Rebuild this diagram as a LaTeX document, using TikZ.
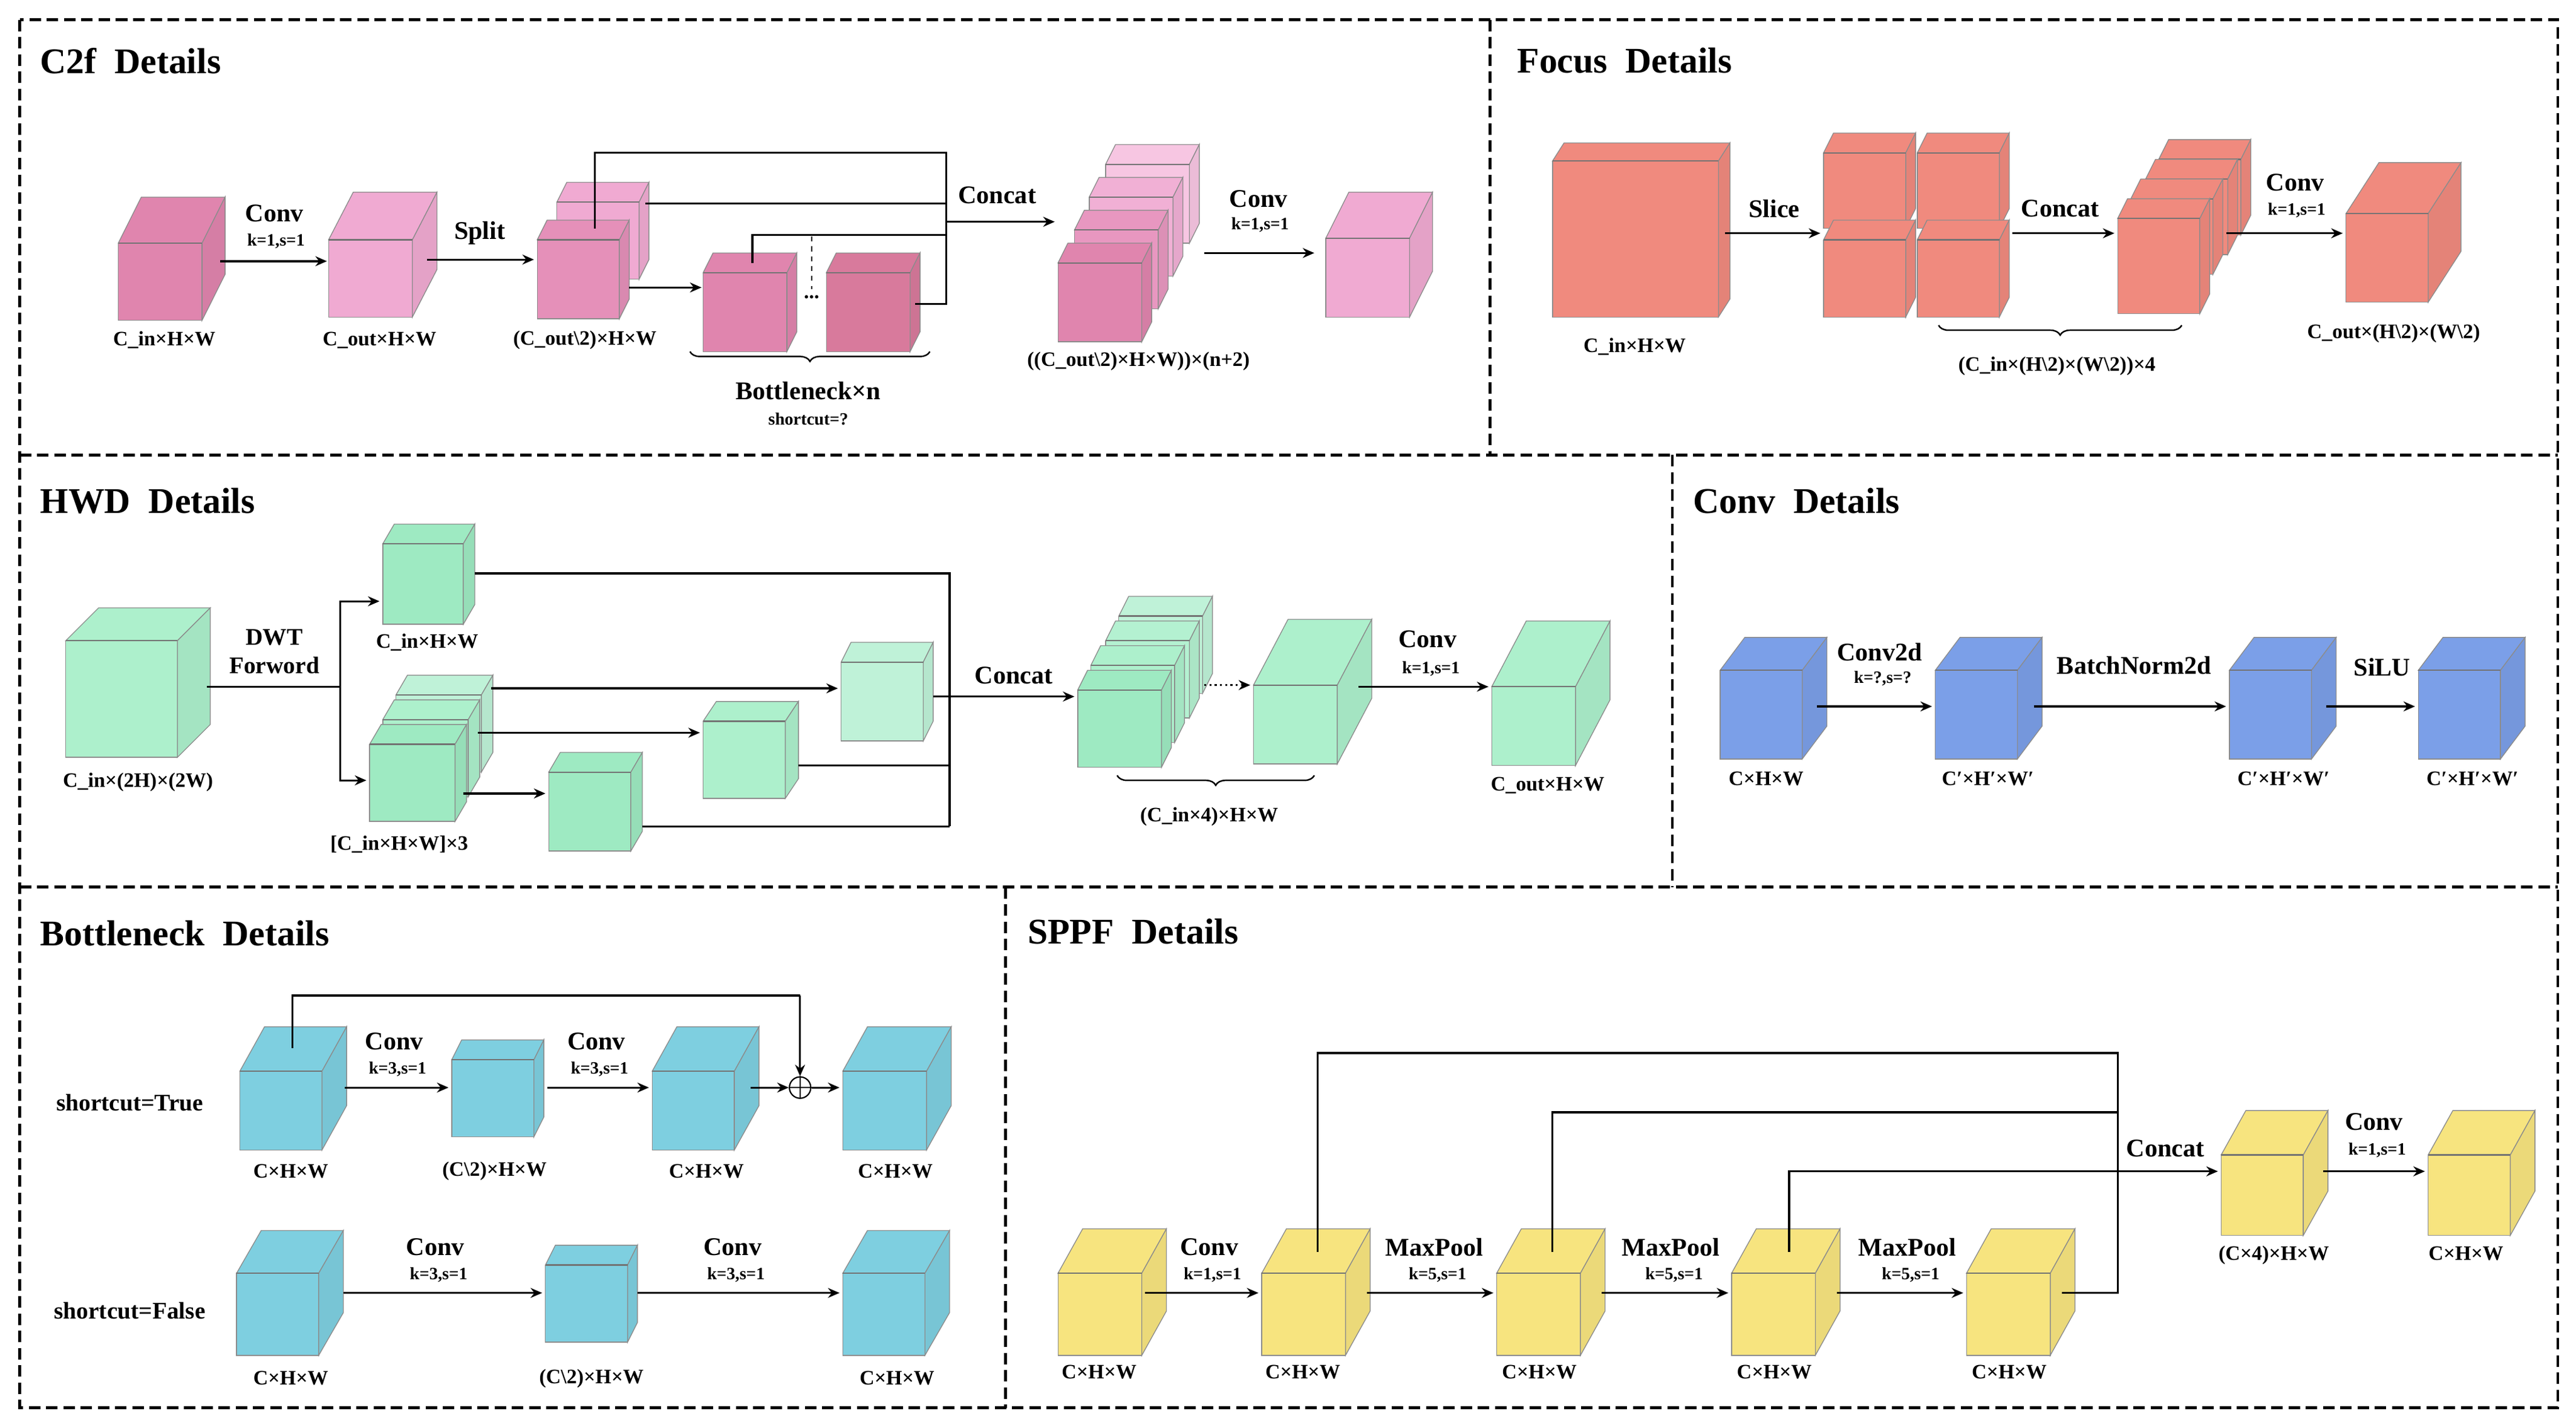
\documentclass[tikz,border=0pt]{standalone}
\usepackage{fontspec}
\setmainfont{Liberation Serif}
\usetikzlibrary{arrows.meta,decorations.pathreplacing}
\definecolor{pkA}{HTML}{E085AE}
\definecolor{pkB}{HTML}{F0AAD2}
\definecolor{pkC}{HTML}{F7C6E2}
\definecolor{pkD}{HTML}{D87A9C}
\definecolor{sal}{HTML}{F08A7E}
\definecolor{grA}{HTML}{9EEAC2}
\definecolor{grB}{HTML}{ADF0CC}
\definecolor{grC}{HTML}{BFF2D8}
\definecolor{blu}{HTML}{7B9FE8}
\definecolor{cya}{HTML}{7ECFE0}
\definecolor{yel}{HTML}{F7E47F}
\newcommand{\cube}[8]{%
 \filldraw[draw=black!45,line width=0.5pt,fill=#8] (#2,#3) rectangle ++(#4,#5);
 \filldraw[draw=black!45,line width=0.5pt,fill=#8] (#2,#3) -- ++(#6,-#7) -- ++(#4,0) -- ++(-#6,#7) -- cycle;
 \filldraw[draw=black!45,line width=0.5pt,fill=#8!95!black] (#2+#4,#3) -- ++(#6,-#7) -- ++(0,#5) -- ++(-#6,#7) -- cycle;
 \draw[black!55,line width=0.8pt] (#2,#3) -- ++(#4,0);
 \path (#2,#3) ++(0.5*#4,0.5*#5) node[inner sep=0,minimum width=#4,minimum height=#5] (#1) {};
}
\begin{document}
\begin{tikzpicture}[x=1pt,y=-1pt,
 title/.style={font=\bfseries\fontsize{22}{24}\selectfont,anchor=west},
 lbl/.style={font=\bfseries\fontsize{12.5}{13}\selectfont},
 op/.style={font=\bfseries\fontsize{15.5}{16}\selectfont},
 sub/.style={font=\bfseries\fontsize{10.5}{11}\selectfont},
 arr/.style={line width=1.2pt,-{Stealth[length=7pt,width=6pt]}},
 ln/.style={line width=1.2pt},
 brc/.style={decorate,decoration={brace,mirror,amplitude=6pt},line width=0.9pt},
 frame/.style={line width=1.7pt,dash pattern=on 7pt off 3.5pt}]
\path[use as bounding box] (0,0) rectangle (1568,869);
% frames
\draw[frame] (12,12) rectangle (1557,857);
\draw[frame] (12,277) -- (1557,277);
\draw[frame] (12,540) -- (1557,540);
\draw[frame] (907,12) -- (907,277);
\draw[frame] (1018,277) -- (1018,540);
\draw[frame] (612,540) -- (612,857);
% ================= C2f
\node[title] (t1) at (21,37) {C2f\,\,\,Details};
\cube{a1}{72}{148}{51}{47}{14}{28}{pkA}
\cube{a2}{200}{146}{51}{47}{15}{29}{pkB}
\cube{a3b}{339}{123}{50}{47}{6}{12}{pkB}
\cube{a3}{327}{146}{50}{48}{6}{12}{pkA!70!pkB}
\cube{b1}{428}{166}{51}{48}{6}{12}{pkA}
\cube{b2}{503}{166}{51}{48}{6}{12}{pkD}
\cube{s4}{673}{100}{51}{48}{6}{12}{pkC}
\cube{s3}{663}{120}{51}{48}{6}{12}{pkB!80!pkC}
\cube{s2}{654}{140}{51}{48}{6}{12}{pkA!50!pkB}
\cube{s1}{644}{160}{51}{48}{6}{12}{pkA}
\cube{a4}{807}{145}{51}{48}{14}{28}{pkB}
\draw[arr] (134,159) -- (199,159);
\node[op] at (167,130) {Conv};
\node[sub] at (168,147) {k=1,s=1};
\draw[arr] (260,158) -- (325,158);
\node[op] at (292,142) {Split};
\draw[arr] (383,175) -- (427,175);
\draw[ln] (362,139) -- (362,93) -- (576,93) -- (576,185) -- (557,185);
\draw[ln] (393,124) -- (576,124);
\draw[ln] (458,160) -- (458,143) -- (576,143);
\draw[dashed,line width=0.8pt] (494,144) -- (494,176);
\node[lbl] at (494,181) {...};
\draw[arr] (576,135) -- (642,135);
\node[op] at (607,119) {Concat};
\draw[arr] (733,154) -- (800,154);
\node[op] at (766,121) {Conv};
\node[sub] at (767,137) {k=1,s=1};
\node[lbl] at (100,207) {C\_in×H×W};
\node[lbl] at (231,207) {C\_out×H×W};
\node[lbl] at (356,207) {(C\_out\textbackslash 2)×H×W};
\draw[brc] (420,214) -- (566,214);
\node[op] at (492,238) {Bottleneck×n};
\node[sub] at (492,255) {shortcut=?};
\node[lbl] at (693,220) {((C\_out\textbackslash 2)×H×W))×(n+2)};
% ================= Focus
\node[title] (t2) at (920,37) {Focus\,\,\,Details};
\cube{f1}{945}{98}{101}{95}{7}{11}{sal}
\cube{f2}{1110}{93}{50}{46}{6}{12}{sal}
\cube{f3}{1110}{146}{50}{47}{6}{12}{sal}
\cube{f4}{1167}{93}{50}{46}{6}{12}{sal}
\cube{f5}{1167}{146}{50}{47}{6}{12}{sal}
\cube{g4}{1314}{97}{50}{46}{6}{12}{sal}
\cube{g3}{1306}{109}{50}{46}{6}{12}{sal}
\cube{g2}{1297}{121}{50}{46}{6}{12}{sal}
\cube{g1}{1289}{133}{50}{58}{6}{12}{sal}
\cube{f6}{1428}{130}{50}{54}{20}{31}{sal}
\draw[arr] (1050,142) -- (1108,142);
\node[op] at (1080,127) {Slice};
\draw[arr] (1225,142) -- (1287,142);
\node[op] at (1254,127) {Concat};
\draw[arr] (1355,142) -- (1426,142);
\node[op] at (1397,111) {Conv};
\node[sub] at (1398,128) {k=1,s=1};
\node[lbl] at (995,211) {C\_in×H×W};
\draw[brc] (1180,198) -- (1328,198);
\node[lbl] at (1252,223) {(C\_in×(H\textbackslash 2)×(W\textbackslash 2))×4};
\node[lbl] at (1457,203) {C\_out×(H\textbackslash 2)×(W\textbackslash 2)};
% ================= HWD
\node[title] (t3) at (21,305) {HWD\,\,\,Details};
\cube{h0}{40}{390}{68}{71}{20}{20}{grB}
\cube{h1}{233}{331}{49}{49}{7}{12}{grA}
\cube{h2c}{241}{423}{52}{47}{7}{12}{grC}
\cube{h2b}{233}{438}{52}{47}{7}{12}{grB}
\cube{h2}{225}{453}{52}{47}{7}{12}{grA}
\cube{hA}{512}{403}{50}{48}{6}{12}{grC}
\cube{hB}{428}{439}{50}{47}{8}{12}{grB}
\cube{hC}{334}{470}{50}{48}{7}{12}{grA}
\cube{k4}{681}{375}{51}{47}{6}{12}{grC}
\cube{k3}{673}{390}{51}{47}{6}{12}{grB!60!grC}
\cube{k2}{664}{405}{51}{47}{6}{12}{grB}
\cube{k1}{656}{420}{51}{47}{6}{12}{grA}
\cube{hM}{763}{417}{51}{48}{21}{40}{grB}
\cube{hO}{908}{418}{51}{48}{21}{40}{grB}
\node[op,font=\bfseries\fontsize{14.5}{15}\selectfont,inner sep=1pt] (dwt1) at (167,388) {DWT};
\node[op,font=\bfseries\fontsize{14.5}{15}\selectfont,inner sep=1pt] (dwt2) at (167,405) {Forword};
\draw[ln] (126,418) -- (207,418);
\draw[arr] (207,418) -- (207,366) -- (231,366);
\draw[arr] (207,418) -- (207,475) -- (223,475);
\draw[ln] (289,349) -- (578,349) -- (578,503);
\draw[arr] (299,419) -- (510,419);
\draw[arr] (291,446) -- (426,446);
\draw[arr] (282,483) -- (332,483);
\draw[ln] (568,424) -- (578,424);
\draw[ln] (486,466) -- (578,466);
\draw[ln] (391,503) -- (578,503);
\draw[arr] (578,424) -- (654,424);
\node[op] at (617,411) {Concat};
\draw[line width=1.2pt,dotted,-{Stealth[length=7pt,width=6pt]}] (733,417) -- (761,417);
\draw[arr] (827,418) -- (906,418);
\node[op] at (869,389) {Conv};
\node[sub] at (871,407) {k=1,s=1};
\node[lbl] at (84,476) {C\_in×(2H)×(2W)};
\node[lbl] at (260,391) {C\_in×H×W};
\node[lbl] at (243,514) {[C\_in×H×W]×3};
\draw[brc] (680,472) -- (800,472);
\node[lbl] at (736,497) {(C\_in×4)×H×W};
\node[lbl] at (942,478) {C\_out×H×W};
% ================= Conv
\node[title] (t4) at (1027,305) {Conv\,\,\,Details};
\cube{c1}{1047}{408}{50}{54}{15}{20}{blu}
\cube{c2}{1178}{408}{50}{54}{15}{20}{blu}
\cube{c3}{1357}{408}{50}{54}{15}{20}{blu}
\cube{c4}{1472}{408}{50}{54}{15}{20}{blu}
\draw[arr] (1106,430) -- (1176,430);
\node[op] at (1144,397) {Conv2d};
\node[sub] at (1146,413) {k=?,s=?};
\draw[arr] (1238,430) -- (1355,430);
\node[op] at (1299,405) {BatchNorm2d};
\draw[arr] (1416,430) -- (1470,430);
\node[op] at (1450,406) {SiLU};
\node[lbl] at (1075,474) {C×H×W};
\node[lbl] at (1210,474) {C′×H′×W′};
\node[lbl] at (1390,474) {C′×H′×W′};
\node[lbl] at (1505,474) {C′×H′×W′};
% ================= Bottleneck
\node[title] (t5) at (21,568) {Bottleneck\,\,\,Details};
\node[op,font=\bfseries\fontsize{14.5}{15}\selectfont] at (79,671) {shortcut=True};
\node[op,font=\bfseries\fontsize{14.5}{15}\selectfont] at (79,798) {shortcut=False};
\cube{p1}{146}{652}{50}{48}{15}{27}{cya}
\cube{p2}{275}{645}{50}{47}{6}{12}{cya}
\cube{p3}{397}{652}{50}{48}{15}{27}{cya}
\cube{p4}{513}{652}{51}{48}{15}{27}{cya}
\node[draw,circle,minimum size=13pt,inner sep=0,line width=0.8pt] (plus) at (487,662) {};
\draw[line width=0.8pt] (plus.north) -- (plus.south) (plus.west) -- (plus.east);
\draw[arr] (210,662) -- (273,662);
\node[op] at (240,634) {Conv};
\node[sub] at (242,651) {k=3,s=1};
\draw[arr] (333,662) -- (395,662);
\node[op] at (363,634) {Conv};
\node[sub] at (365,651) {k=3,s=1};
\draw[arr] (457,662) -- (plus.west);
\draw[arr] (plus.east) -- (511,662);
\draw[ln] (178,638) -- (178,606) -- (487,606);
\draw[arr] (487,606) -- (plus.north);
\node[lbl] at (177,713) {C×H×W};
\node[lbl] at (301,713) {(C\textbackslash 2)×H×W};
\node[lbl] at (430,713) {C×H×W};
\node[lbl] at (545,713) {C×H×W};
\cube{q1}{144}{775}{50}{50}{15}{26}{cya}
\cube{q2}{332}{770}{50}{47}{6}{12}{cya}
\cube{q3}{513}{775}{50}{50}{15}{26}{cya}
\draw[arr] (209,787) -- (330,787);
\node[op] at (265,759) {Conv};
\node[sub] at (267,776) {k=3,s=1};
\draw[arr] (388,787) -- (511,787);
\node[op] at (446,759) {Conv};
\node[sub] at (448,776) {k=3,s=1};
\node[lbl] at (177,839) {C×H×W};
\node[lbl] at (360,839) {(C\textbackslash 2)×H×W};
\node[lbl] at (546,839) {C×H×W};
% ================= SPPF
\node[title] (t6) at (622,567) {SPPF\,\,\,Details};
\cube{y1}{644}{775}{51}{50}{15}{27}{yel}
\cube{y2}{768}{775}{51}{50}{15}{27}{yel}
\cube{y3}{911}{775}{51}{50}{15}{27}{yel}
\cube{y4}{1054}{775}{51}{50}{15}{27}{yel}
\cube{y5}{1197}{775}{51}{50}{15}{27}{yel}
\cube{y6}{1352}{703}{50}{49}{15}{27}{yel}
\cube{y7}{1478}{703}{50}{49}{15}{27}{yel}
\draw[arr] (697,787) -- (766,787);
\node[op] at (736,759) {Conv};
\node[sub] at (738,776) {k=1,s=1};
\draw[arr] (832,787) -- (909,787);
\node[op] at (873,759) {MaxPool};
\node[sub] at (875,776) {k=5,s=1};
\draw[arr] (975,787) -- (1052,787);
\node[op] at (1017,759) {MaxPool};
\node[sub] at (1019,776) {k=5,s=1};
\draw[arr] (1118,787) -- (1195,787);
\node[op] at (1161,759) {MaxPool};
\node[sub] at (1163,776) {k=5,s=1};
\draw[ln] (802,762) -- (802,641) -- (1289,641) -- (1289,787) -- (1255,787);
\draw[ln] (945,762) -- (945,677) -- (1289,677);
\draw[ln] (1089,762) -- (1089,713) -- (1289,713);
\draw[arr] (1289,713) -- (1350,713);
\node[op] at (1318,699) {Concat};
\draw[arr] (1414,713) -- (1476,713);
\node[op] at (1445,683) {Conv};
\node[sub] at (1447,700) {k=1,s=1};
\node[lbl] at (669,835) {C×H×W};
\node[lbl] at (793,835) {C×H×W};
\node[lbl] at (937,835) {C×H×W};
\node[lbl] at (1080,835) {C×H×W};
\node[lbl] at (1223,835) {C×H×W};
\node[lbl] at (1384,764) {(C×4)×H×W};
\node[lbl] at (1501,763) {C×H×W};
\end{tikzpicture}
\end{document}
